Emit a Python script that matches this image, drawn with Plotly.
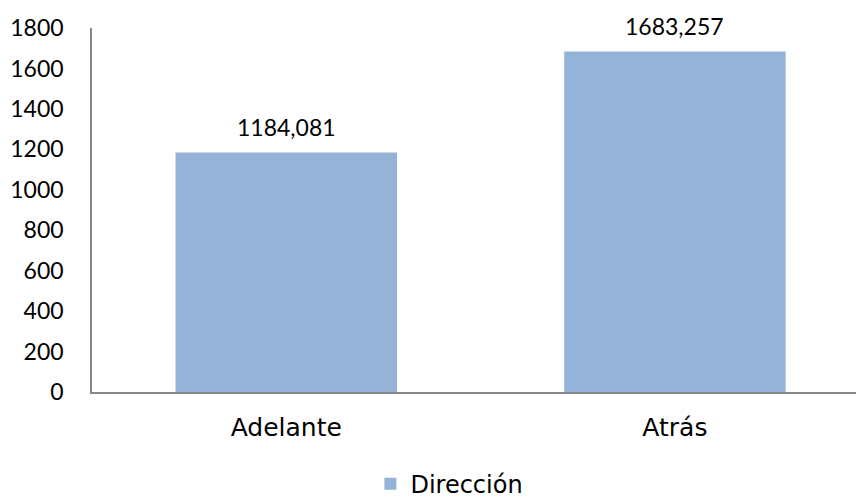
import plotly.graph_objects as go

# Datos del gráfico
categorias = ["Adelante", "Atrás"]
valores = [1184.081, 1683.257]
serie = "Dirección"
ticks_y = [0, 200, 400, 600, 800, 1000, 1200, 1400, 1600, 1800]

color_barra = "#95B3D7"
fuente_num = "Lato"
fuente_txt = "DejaVu Sans"


def formato(v):
    return f"{v:.3f}".replace(".", ",")


fig = go.Figure()
fig.add_trace(go.Bar(
    x=categorias,
    y=valores,
    name=serie,
    marker=dict(color=color_barra, line=dict(width=0)),
    width=0.57,
    showlegend=True,
))

# Etiquetas de valor sobre cada barra
for c, v in zip(categorias, valores):
    fig.add_annotation(
        x=c, y=v, text=formato(v), showarrow=False,
        yanchor="bottom", yshift=10,
        font=dict(family=fuente_num, size=23, color="#000000"),
    )

fig.update_layout(
    width=856, height=498,
    margin=dict(l=92, r=0, t=28, b=106),
    paper_bgcolor="white", plot_bgcolor="white",
    font=dict(family=fuente_txt, size=22, color="#000000"),
    showlegend=True,
    legend=dict(
        orientation="h",
        xref="container", yref="container",
        x=0.525, y=0.028, xanchor="center", yanchor="middle",
        font=dict(family=fuente_txt, size=24, color="#000000"),
        itemwidth=30,
    ),
)

fig.update_xaxes(
    type="category",
    range=[-0.5, 1.466],
    showline=True, linecolor="#868686", linewidth=1.5,
    showgrid=False, ticks="",
    ticklabelstandoff=12,
    tickfont=dict(family=fuente_txt, size=25, color="#000000"),
)

fig.update_yaxes(
    range=[0, 1800],
    tickvals=ticks_y,
    showline=True, linecolor="#868686", linewidth=1.5,
    showgrid=False, zeroline=False, ticks="",
    ticklabelstandoff=22,
    tickfont=dict(family=fuente_num, size=23, color="#000000"),
)

fig.write_html("out.html")
